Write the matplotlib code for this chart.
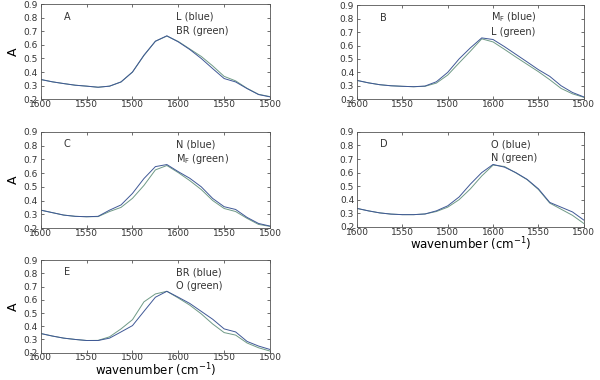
import matplotlib
matplotlib.use("Agg")
import matplotlib.pyplot as plt

plt.rcParams['font.family'] = ['DejaVu Sans']
plt.rcParams['mathtext.default'] = 'regular'

# wavenumber grid (cm-1), plotted right-to-left
wn = [1600, 1595, 1590, 1585, 1580, 1575, 1570, 1565, 1560, 1555, 1550,
      1545, 1540, 1535, 1530, 1525, 1520, 1515, 1510, 1505, 1500]
xtick_pos = [1600, 1580, 1560, 1540, 1520, 1500]
xtick_labels = ['1600', '1550', '1500', '1600', '1550', '1500']
ytick_pos = [0.2, 0.3, 0.4, 0.5, 0.6, 0.7, 0.8, 0.9]

# panel A: L (blue) / BR (green)
a_blue = [0.345, 0.328, 0.315, 0.303, 0.296, 0.288, 0.296, 0.327, 0.400, 0.524, 0.627,
          0.667, 0.622, 0.566, 0.500, 0.425, 0.352, 0.327, 0.278, 0.234, 0.217]
a_green = [0.345, 0.328, 0.315, 0.303, 0.296, 0.288, 0.296, 0.327, 0.400, 0.522, 0.627,
           0.665, 0.625, 0.570, 0.515, 0.445, 0.368, 0.335, 0.280, 0.236, 0.219]
# panel B: MF (blue) / L (green)
b_blue = [0.340, 0.322, 0.308, 0.300, 0.296, 0.293, 0.298, 0.330, 0.400, 0.500, 0.583,
          0.657, 0.645, 0.592, 0.535, 0.478, 0.420, 0.370, 0.300, 0.250, 0.217]
b_green = [0.340, 0.322, 0.308, 0.300, 0.296, 0.293, 0.296, 0.320, 0.380, 0.470, 0.558,
           0.650, 0.627, 0.572, 0.515, 0.460, 0.405, 0.345, 0.280, 0.240, 0.214]
# panel C: N (blue) / MF (green)
c_blue = [0.330, 0.312, 0.294, 0.285, 0.282, 0.285, 0.330, 0.368, 0.452, 0.560, 0.647,
          0.662, 0.610, 0.562, 0.500, 0.415, 0.355, 0.335, 0.277, 0.233, 0.214]
c_green = [0.330, 0.312, 0.294, 0.285, 0.282, 0.283, 0.320, 0.350, 0.416, 0.510, 0.623,
           0.655, 0.603, 0.545, 0.480, 0.400, 0.342, 0.320, 0.270, 0.226, 0.212]
# panel D: O (blue) / N (green)
d_blue = [0.336, 0.318, 0.303, 0.294, 0.290, 0.290, 0.295, 0.318, 0.355, 0.420, 0.515,
          0.600, 0.660, 0.640, 0.600, 0.550, 0.480, 0.380, 0.345, 0.310, 0.250]
d_green = [0.336, 0.318, 0.303, 0.294, 0.290, 0.290, 0.295, 0.313, 0.345, 0.400, 0.480,
           0.575, 0.655, 0.645, 0.598, 0.548, 0.475, 0.375, 0.330, 0.285, 0.225]
# panel E: BR (blue) / O (green)
e_blue = [0.345, 0.326, 0.310, 0.300, 0.292, 0.292, 0.310, 0.357, 0.405, 0.513, 0.620,
          0.665, 0.620, 0.573, 0.513, 0.453, 0.380, 0.357, 0.285, 0.250, 0.224]
e_green = [0.345, 0.326, 0.310, 0.300, 0.292, 0.293, 0.320, 0.380, 0.450, 0.585, 0.645,
           0.665, 0.614, 0.560, 0.494, 0.417, 0.352, 0.333, 0.273, 0.237, 0.212]

panels = [
    ('A', 'L (blue)', 'BR (green)', a_blue, a_green, [0.068, 0.739, 0.382, 0.250], True, False),
    ('B', 'M$_F$ (blue)', 'L (green)', b_blue, b_green, [0.595, 0.739, 0.378, 0.247], False, False),
    ('C', 'N (blue)', 'M$_F$ (green)', c_blue, c_green, [0.068, 0.400, 0.382, 0.253], True, False),
    ('D', 'O (blue)', 'N (green)', d_blue, d_green, [0.595, 0.403, 0.378, 0.250], False, True),
    ('E', 'BR (blue)', 'O (green)', e_blue, e_green, [0.068, 0.072, 0.382, 0.243], True, True),
]

blue = '#3f5896'
green = '#6f9a86'

fig = plt.figure(figsize=(6, 3.8), dpi=100)

for letter, lab1, lab2, yb, yg, rect, show_ylabel, show_xlabel in panels:
    ax = fig.add_axes(rect)
    ax.plot(wn, yg, color=green, lw=0.7)
    ax.plot(wn, yb, color=blue, lw=0.7)
    ax.set_xlim(1600, 1500)
    ax.set_ylim(0.2, 0.9)
    ax.set_xticks(xtick_pos)
    ax.set_xticklabels(xtick_labels)
    ax.set_yticks(ytick_pos)
    ax.set_yticklabels(['%.1f' % v for v in ytick_pos])
    ax.tick_params(direction='in', top=True, right=True, length=2.5, width=0.5,
                   labelsize=6.5, colors='#333333')
    ax.tick_params(axis='x', pad=0.5)
    ax.tick_params(axis='y', pad=2)
    for s in ax.spines.values():
        s.set_linewidth(0.6)
        s.set_color('#555555')
    ax.text(0.10, 0.87, letter, transform=ax.transAxes, fontsize=7, va='center', color='#333333')
    ax.text(0.59, 0.87, lab1, transform=ax.transAxes, fontsize=7, va='center', color='#333333')
    ax.text(0.59, 0.72, lab2, transform=ax.transAxes, fontsize=7, va='center', color='#333333')
    if show_ylabel:
        ax.set_ylabel('A', fontsize=9, labelpad=3)
    if show_xlabel:
        ax.set_xlabel('wavenumber (cm$^{-1}$)', fontsize=8.5, labelpad=-0.5)

fig.savefig('out.png', dpi=100)
